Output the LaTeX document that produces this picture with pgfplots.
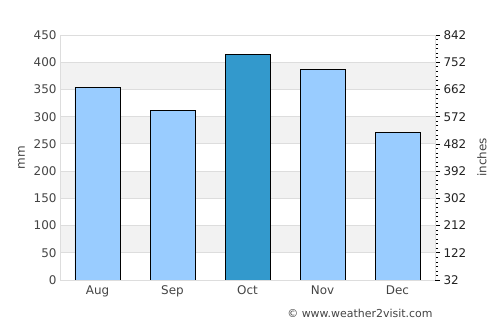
\documentclass[border=0pt]{standalone}
\usepackage{pgfplots}
\pgfplotsset{compat=1.18}
\usepackage{fontspec}
\setmainfont{DejaVu Sans}
\definecolor{barlight}{HTML}{99CCFF}
\definecolor{bardark}{HTML}{3399CC}
\definecolor{band}{HTML}{F2F2F2}
\definecolor{gridc}{HTML}{DDDDDD}
\definecolor{txt}{HTML}{444444}
\definecolor{txtd}{HTML}{222222}
\begin{document}
\begin{tikzpicture}
\path[use as bounding box] (0,0) rectangle (500bp,325bp);
\begin{axis}[
  at={(60bp,45bp)}, anchor=south west, scale only axis, width=375bp, height=245bp,
  xmin=-0.5, xmax=4.5, ymin=0, ymax=450, hide axis,
]
\fill[band] (axis cs:-0.5,50) rectangle (axis cs:4.5,100);
\fill[band] (axis cs:-0.5,150) rectangle (axis cs:4.5,200);
\fill[band] (axis cs:-0.5,250) rectangle (axis cs:4.5,300);
\fill[band] (axis cs:-0.5,350) rectangle (axis cs:4.5,400);
\end{axis}
\begin{axis}[
  at={(60bp,45bp)}, anchor=south west, scale only axis, width=375bp, height=245bp,
  xmin=-0.5, xmax=4.5, ymin=0, ymax=450,
  xtick={0,...,4}, xticklabels={Aug,Sep,Oct,Nov,Dec},
  ytick={0,50,...,450},
  major tick length=0pt,
  axis line style={gridc},
  ymajorgrids, grid style={gridc, line width=0.8bp},
  /pgf/number format/assume math mode=true,
  tick label style={font=\fontsize{12}{14}\selectfont, text=txt},
  xticklabel style={yshift=-2bp},
  ylabel={mm}, ylabel shift=2bp, ylabel style={font=\fontsize{12}{14}\selectfont, text=txt},
  ybar, bar width=45bp,
]
\addplot[bar shift=0pt, fill=barlight, draw=black, line width=0.8bp] coordinates {(0,354) (1,312) (3,387) (4,271)};
\addplot[bar shift=0pt, fill=bardark, draw=black, line width=0.8bp] coordinates {(2,415)};
\end{axis}
\begin{axis}[
  at={(60bp,45bp)}, anchor=south west, scale only axis, width=375bp, height=245bp,
  xmin=-0.5, xmax=4.5, ymin=32, ymax=842,
  axis x line=none, axis y line*=right,
  y axis line style={gridc},
  ytick={32,122,...,842}, minor y tick num=5,
  tick align=outside, major tick length=5bp, minor tick length=3bp,
  tick style={black, line width=0.6bp},
  /pgf/number format/assume math mode=true,
  yticklabel style={font=\fontsize{12}{14}\selectfont, text=txtd},
  ylabel={inches}, ylabel shift=4bp, ylabel style={font=\fontsize{12}{14}\selectfont, text=txt},
]
\addplot[draw=none] coordinates {(0,32)};
\end{axis}
\node[anchor=east, font=\fontsize{11}{12}\selectfont, text=txt] at (436bp,12bp) {© www.weather2visit.com};
\end{tikzpicture}
\end{document}
